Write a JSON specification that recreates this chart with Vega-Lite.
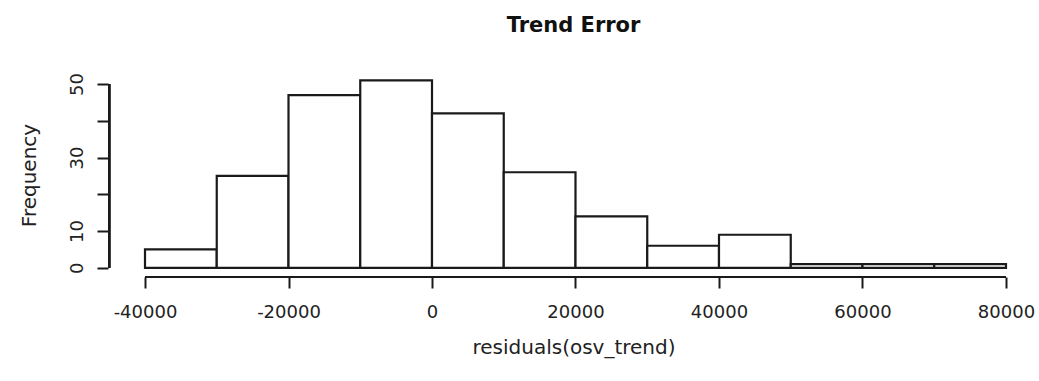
{
  "$schema": "https://vega.github.io/schema/vega-lite/v6.json",
  "autosize": {"type": "none"},
  "padding": {"left": 108, "top": 73, "right": 0, "bottom": 104},
  "width": 931,
  "height": 204,
  "background": "white",
  "title": {
    "text": "Trend Error",
    "font": "DejaVu Sans",
    "fontSize": 21,
    "fontWeight": "bold",
    "color": "#111111",
    "anchor": "middle",
    "baseline": "alphabetic",
    "offset": 20
  },
  "data": {
    "values": [
      {"bin_start": -40000, "bin_end": -30000, "count": 5},
      {"bin_start": -30000, "bin_end": -20000, "count": 25},
      {"bin_start": -20000, "bin_end": -10000, "count": 47},
      {"bin_start": -10000, "bin_end": 0, "count": 51},
      {"bin_start": 0, "bin_end": 10000, "count": 42},
      {"bin_start": 10000, "bin_end": 20000, "count": 26},
      {"bin_start": 20000, "bin_end": 30000, "count": 14},
      {"bin_start": 30000, "bin_end": 40000, "count": 6},
      {"bin_start": 40000, "bin_end": 50000, "count": 9},
      {"bin_start": 50000, "bin_end": 60000, "count": 1},
      {"bin_start": 60000, "bin_end": 70000, "count": 1},
      {"bin_start": 70000, "bin_end": 80000, "count": 1}
    ]
  },
  "layer": [
    {
      "mark": {"type": "bar", "fill": "white", "stroke": "#1a1a1a", "strokeWidth": 2.2},
      "encoding": {
        "x": {
          "field": "bin_start",
          "type": "quantitative",
          "scale": {"domain": [-45157, 84600], "nice": false, "zero": false},
          "axis": {
            "title": "residuals(osv_trend)",
            "values": [-40000, -20000, 0, 20000, 40000, 60000, 80000],
            "labelExpr": "datum.value + ''",
            "domain": false,
            "grid": false,
            "tickSize": 11,
            "tickWidth": 2,
            "tickColor": "#1a1a1a",
            "labelPadding": 15,
            "titlePadding": 16
          }
        },
        "x2": {"field": "bin_end"},
        "y": {
          "field": "count",
          "type": "quantitative",
          "scale": {"domain": [-2.5, 53], "nice": false, "zero": false},
          "axis": {
            "title": "Frequency",
            "values": [0, 10, 20, 30, 40, 50],
            "labelExpr": "datum.value == 20 || datum.value == 40 ? '' : datum.value + ''",
            "labelOverlap": false,
            "labelAngle": -90,
            "labelAlign": "center",
            "labelBaseline": "alphabetic",
            "domain": false,
            "grid": false,
            "tickSize": 11,
            "tickWidth": 2,
            "tickColor": "#1a1a1a",
            "labelPadding": 15,
            "titlePadding": 29
          }
        },
        "y2": {"datum": 0}
      }
    },
    {
      "mark": {"type": "rule", "color": "#1a1a1a", "strokeWidth": 2},
      "encoding": {
        "x": {"datum": -45000, "type": "quantitative"},
        "y": {"datum": 0, "type": "quantitative"},
        "y2": {"datum": 50}
      }
    },
    {
      "mark": {"type": "rule", "color": "#1a1a1a", "strokeWidth": 2},
      "encoding": {
        "y": {"datum": -2.5, "type": "quantitative"},
        "x": {"datum": -40000, "type": "quantitative"},
        "x2": {"datum": 80000}
      }
    }
  ],
  "config": {
    "view": {"stroke": null},
    "axis": {
      "labelFont": "DejaVu Sans",
      "labelFontSize": 18,
      "labelColor": "#222222",
      "titleFont": "DejaVu Sans",
      "titleFontSize": 20,
      "titleFontWeight": "normal",
      "titleColor": "#222222"
    }
  }
}
